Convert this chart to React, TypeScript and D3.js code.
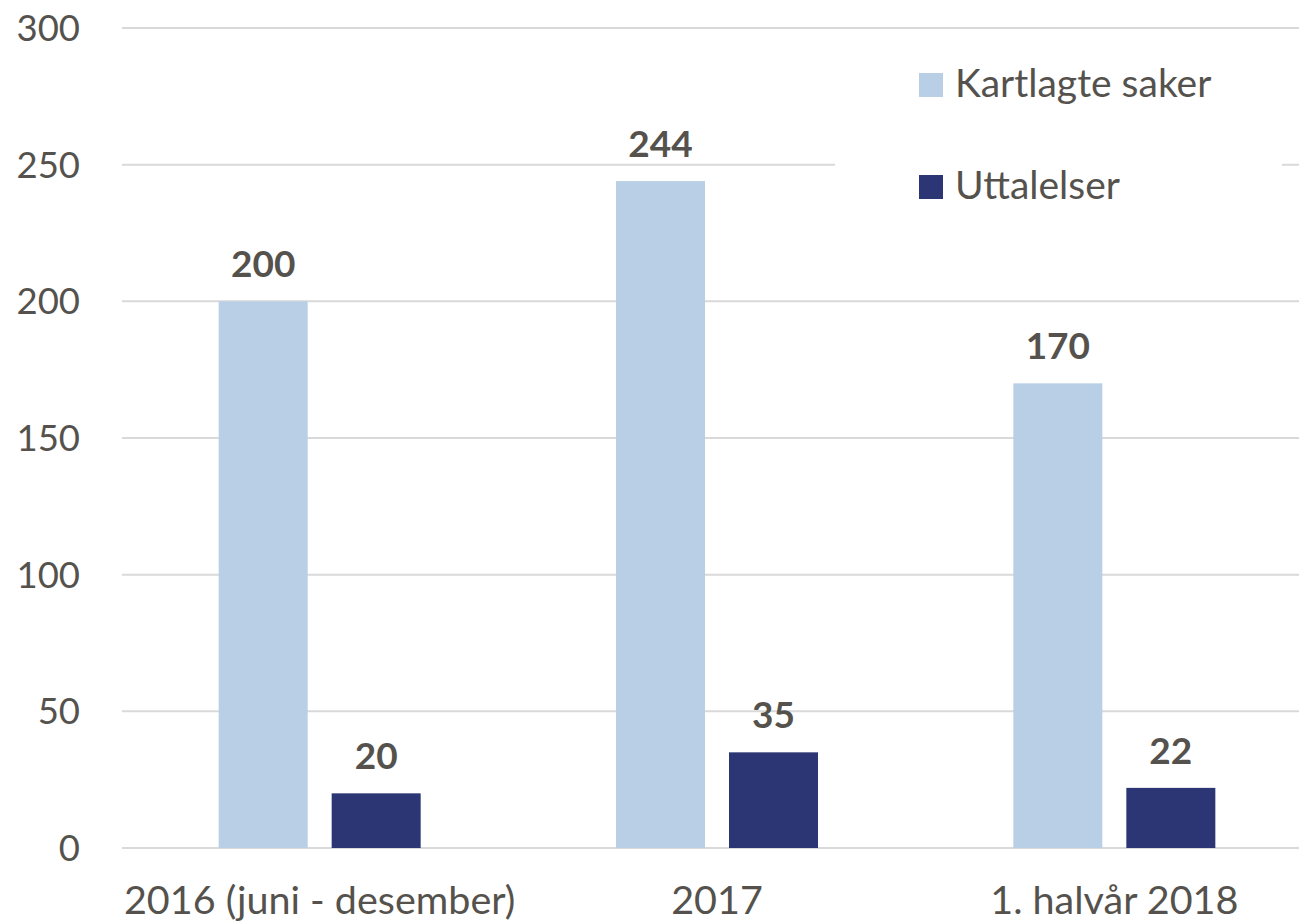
import * as d3 from "d3";

const categories = ["2016 (juni - desember)", "2017", "1. halvår 2018"];
const seriesNames = ["Kartlagte saker", "Uttalelser"];
const kartlagte = [200, 244, 170];
const uttalelser = [20, 35, 22];
const yTicks = [0, 50, 100, 150, 200, 250, 300];

const colors = ["#B9CFE5", "#2C3674"];
const textColor = "#55524D";
const font = "Lato, 'Open Sans', sans-serif";

const width = 1299;
const height = 922;

export default function App() {
  const y = d3.scaleLinear().domain([0, 300]).range([848, 28]);
  const x = d3.scaleBand<string>().domain(categories).range([121, 1313]).padding(0);
  const xs = d3
    .scaleBand<string>()
    .domain(seriesNames)
    .range([-101, 101])
    .paddingInner(24 / 113);

  const values = [kartlagte, uttalelser];

  return (
    <svg
      width={width}
      height={height}
      style={{ position: "absolute", left: 0, top: 0, background: "#fff" }}
      fontFamily={font}
    >
      {/* gridlines */}
      {yTicks.map((t) => (
        <line
          key={t}
          x1={122}
          x2={width}
          y1={y(t)}
          y2={y(t)}
          stroke="#D9D9D9"
          strokeWidth={2}
        />
      ))}
      {/* y tick labels */}
      {yTicks.map((t) => (
        <text
          key={"l" + t}
          x={80}
          y={y(t)}
          dy="0.36em"
          textAnchor="end"
          fontSize={36.5}
          fill={textColor}
        >
          {t}
        </text>
      ))}
      {/* legend box covers gridline */}
      <rect x={835} y={40} width={447} height={190} fill="#fff" />
      {seriesNames.map((s, i) => (
        <g key={s} transform={`translate(919, ${73 + i * 102})`}>
          <rect width={24} height={24} fill={colors[i]} />
          <text x={36} y={24} fontSize={39} fill={textColor}>
            {s}
          </text>
        </g>
      ))}
      {/* bars */}
      {categories.map((c, ci) => (
        <g key={c} transform={`translate(${x(c)! + x.bandwidth() / 2}, 0)`}>
          {seriesNames.map((s, si) => {
            const v = values[si][ci];
            const bx = xs(s)!;
            return (
              <g key={s}>
                <rect
                  x={bx}
                  y={y(v)}
                  width={xs.bandwidth()}
                  height={y(0) - y(v)}
                  fill={colors[si]}
                />
                <text
                  x={bx + xs.bandwidth() / 2}
                  y={y(v) - 24}
                  textAnchor="middle"
                  fontSize={37}
                  fontWeight="bold"
                  fill={textColor}
                >
                  {v}
                </text>
              </g>
            );
          })}
          <text
            x={0}
            y={914}
            textAnchor="middle"
            fontSize={39.5}
            fill={textColor}
          >
            {c}
          </text>
        </g>
      ))}
    </svg>
  );
}
